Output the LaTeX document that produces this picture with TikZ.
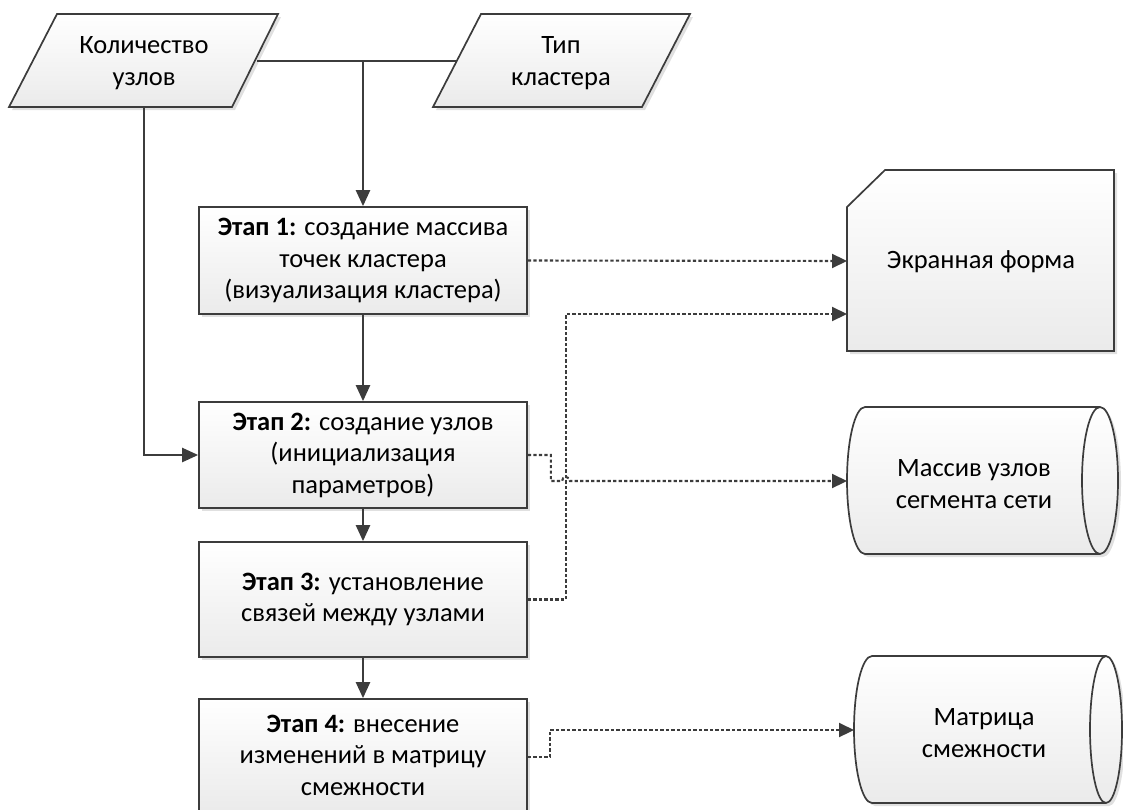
\documentclass[tikz,border=0pt]{standalone}
\usepackage{fontspec}
\setmainfont{Carlito}
\usetikzlibrary{arrows.meta,shadows}
\definecolor{ln}{HTML}{3C3C3C}
\tikzset{
  shp/.style={draw=ln, line width=1.7pt, top color=white, bottom color=gray!16,
    drop shadow={shadow xshift=3pt, shadow yshift=-3pt, opacity=0.12, fill=black}},
  stepbox/.style={shp, minimum width=328pt, inner sep=0pt, align=center,
    font=\fontsize{26.5}{31.5}\selectfont},
  lbl/.style={inner sep=0pt, align=center, font=\fontsize{26.5}{32}\selectfont},
  arr/.style={draw=ln, line width=2.4pt, -{Triangle[length=16pt,width=14pt]}},
  plain/.style={draw=ln, line width=2.4pt},
  dotarr/.style={draw=ln, line width=2.1pt, dash pattern=on 3.2pt off 2.3pt,
    -{Triangle[length=15pt,width=14pt]}}
}
\begin{document}
\begin{tikzpicture}[x=1pt,y=-1pt]
\useasboundingbox (0,0) rectangle (1123,809);
% input parallelograms
\path[shp] (9,107) -- (57,14) -- (278,14) -- (232,107) -- cycle;
\node[lbl] (nodes) at (144,63) {Количество\\узлов};
\path[shp] (433,107) -- (481,14) -- (690,14) -- (642,107) -- cycle;
\node[lbl] (type) at (561,63) {Тип\\кластера};
% steps
\node[stepbox, minimum height=107pt] (s1) at (363,260.5)
  {\textbf{Этап 1:} создание массива\\точек кластера\\(визуализация кластера)};
\node[stepbox, minimum height=106pt] (s2) at (363,455)
  {\textbf{Этап 2:} создание узлов\\(инициализация\\параметров)};
\node[stepbox, minimum height=115pt] (s3) at (363,599.5)
  {\textbf{Этап 3:} установление\\связей между узлами};
\node[stepbox, minimum height=112pt] (s4) at (363,755)
  {\textbf{Этап 4:} внесение\\изменений в матрицу\\смежности};
% display
\path[shp] (847,207) -- (885,170) -- (1114,170) -- (1114,351) -- (847,351) -- cycle;
\node[lbl] (disp) at (981,262) {Экранная форма};
% cylinder 1
\path[shp] (865,407) -- (1100,407) arc[start angle=-90,end angle=90,x radius=18,y radius=73.5]
  -- (865,554) arc[start angle=90,end angle=270,x radius=18,y radius=73.5] -- cycle;
\draw[ln, line width=1.7pt] (1100,407) arc[start angle=270,end angle=90,x radius=18,y radius=73.5];
\node[lbl] (arr1) at (974,484) {Массив узлов\\сегмента сети};
% cylinder 2
\path[shp] (872,656) -- (1106,656) arc[start angle=-90,end angle=90,x radius=16,y radius=73.5]
  -- (872,803) arc[start angle=90,end angle=270,x radius=18,y radius=73.5] -- cycle;
\draw[ln, line width=1.7pt] (1106,656) arc[start angle=270,end angle=90,x radius=16,y radius=73.5];
\node[lbl] (mat) at (984,733) {Матрица\\смежности};
% connection points
\coordinate (p1r) at (257,61);
\coordinate (p2l) at (457,61);
\coordinate (jn) at (363,61);
\coordinate (p1b) at (144,107);
\coordinate (d1) at (847,261);
\coordinate (d2) at (847,314);
\coordinate (bend3) at (566,314);
\coordinate (hopL) at (562,481);
\coordinate (c1) at (847,481);
\coordinate (c2) at (854,730);
\coordinate (bend4) at (550,730);
% solid connectors
\draw[plain] (p1r) -- (p2l);
\draw[arr] (jn) -- (s1.north);
\draw[arr] (p1b) |- (s2.west);
\draw[arr] (s1.south) -- (s2.north);
\draw[arr] (s2.south) -- (s3.north);
\draw[arr] (s3.south) -- (s4.north);
% dotted connectors
\draw[dotarr] (s1.east) -- (d1);
\draw[dotarr] (s3.east) -| (bend3) -- (d2);
\draw[dotarr] (s2.east) -- ++(23,0) |- (hopL) arc[start angle=180,end angle=360,radius=4] -- (c1);
\draw[dotarr] ([yshift=-2pt]s4.east) -| (bend4) -- (c2);
\end{tikzpicture}
\end{document}
